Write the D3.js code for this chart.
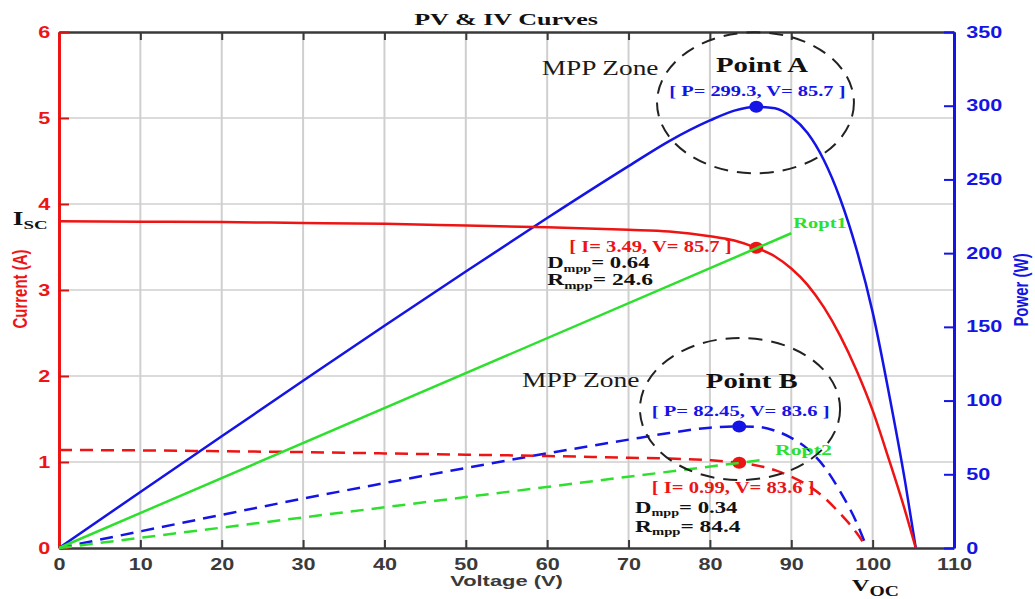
<!DOCTYPE html>
<html>
<head>
<meta charset="utf-8">
<script src="https://cdn.jsdelivr.net/npm/d3@7"></script>
<style>
  body { margin: 0; background: #fff; }
  .sans { font-family: "Liberation Sans", Arial, sans-serif; font-weight: bold; }
  .serif { font-family: "Liberation Serif", "Times New Roman", serif; }
</style>
</head>
<body>
<div id="chart"></div>
<script>
// DATA
// case A : solid curves
const voltageA = [0, 10, 20, 30, 40, 50, 60, 70, 75, 80, 83, 85.7, 88, 90, 92, 94, 96, 98, 100, 102, 104, 105.3]
const currentA = [3.80, 3.795, 3.79, 3.78, 3.77, 3.75, 3.73, 3.70, 3.68, 3.625, 3.575, 3.49, 3.39, 3.25, 3.06, 2.80, 2.47, 2.07, 1.60, 1.03, 0.43, 0]
const powerA = [0, 38, 75.8, 113.4, 150.8, 187.5, 223.8, 259, 276, 290, 296.7, 299.3, 298.3, 292.5, 281.5, 263.2, 237.1, 202.9, 160, 105, 44.7, 0]
// case B : dashed curves
const voltageB = [0, 10, 20, 30, 40, 50, 60, 70, 75, 80, 83.6, 86, 88, 90, 92, 94, 96, 98, 99.3]
const currentB = [1.14, 1.135, 1.125, 1.115, 1.10, 1.085, 1.07, 1.05, 1.04, 1.02, 0.99, 0.955, 0.905, 0.83, 0.73, 0.59, 0.40, 0.18, 0]
const powerB = [0, 11.3, 22.5, 33.5, 44, 54.3, 64.2, 73.5, 78, 81.6, 82.45, 82.1, 79.6, 74.7, 67.2, 55.5, 38.4, 17.6, 0]
// load lines (Ropt1, Ropt2)
const roptV1 = [0, 90], roptI1 = [0, 3.66]
const roptV2 = [0, 87], roptI2 = [0, 1.03]
// maximum power points A and B
const mppV = [85.7, 83.6]
const mppI = [3.49, 0.99]
const mppP = [299.3, 82.45]
// MPP zones (centre V, centre P, radius V, radius P)
const zoneV = [85.6, 83.7]
const zoneP = [302, 94.3]
const zoneRV = [12.1, 12.3]
const zoneRP = [47.8, 48.2]
// ticks
const xTicks = [0, 10, 20, 30, 40, 50, 60, 70, 80, 90, 100, 110]
const iTicks = [0, 1, 2, 3, 4, 5, 6]
const pTicks = [0, 50, 100, 150, 200, 250, 300, 350]

const W = 1035, H = 599
const margin = {top: 32, right: 81, bottom: 51, left: 59}
const width = W - margin.left - margin.right
const height = H - margin.top - margin.bottom
const SX = 1.35 // the original picture is stretched sideways

const RED = "#ee1414", BLUE = "#1414e6", GREEN = "#2ee02e", GREY = "#3a3a3a"

const xScale = d3.scaleLinear().domain([0, 110]).range([0, width])
const yI = d3.scaleLinear().domain([0, 6]).range([height, 0])
const yP = d3.scaleLinear().domain([0, 350]).range([height, 0])

const svg = d3.select("#chart")
  .append("svg")
  .attr("width", W)
  .attr("height", H)

const g = svg.append("g")
  .attr("transform", `translate(${margin.left},${margin.top})`)

// GRID
g.append("g").selectAll("line")
  .data(xTicks.slice(1, -1))
  .join("line")
    .attr("x1", d => xScale(d)).attr("x2", d => xScale(d))
    .attr("y1", 0).attr("y2", height)
    .attr("stroke", "#cfcfcf").attr("stroke-width", 2)

g.append("g").selectAll("line")
  .data(iTicks.slice(1, -1))
  .join("line")
    .attr("x1", 0).attr("x2", width)
    .attr("y1", d => yI(d)).attr("y2", d => yI(d))
    .attr("stroke", "#cfcfcf").attr("stroke-width", 1.5)

// AXES
const xAxis = g.append("g")
  .attr("transform", `translate(0,${height})`)
  .call(d3.axisBottom(xScale).tickValues(xTicks).tickSizeInner(-8).tickSizeOuter(0).tickPadding(11))
xAxis.selectAll("text").attr("class", "sans").attr("font-size", 16).attr("fill", GREY)
  .attr("transform", `scale(${SX},1)`)

const topAxis = g.append("g")
  .call(d3.axisTop(xScale).tickValues(xTicks).tickSizeInner(-8).tickSizeOuter(0).tickFormat(""))

;[xAxis, topAxis].forEach(a => {
  a.select(".domain").attr("stroke", GREY).attr("stroke-width", 2.5)
  a.selectAll(".tick line").attr("stroke", GREY).attr("stroke-width", 2)
})

const leftAxis = g.append("g")
  .call(d3.axisLeft(yI).tickValues(iTicks).tickFormat(d3.format("d"))
    .tickSizeInner(-10).tickSizeOuter(0).tickPadding(6.5))
leftAxis.select(".domain").attr("stroke", RED).attr("stroke-width", 3)
leftAxis.selectAll(".tick line").attr("stroke", "#c81818").attr("stroke-width", 2)
leftAxis.selectAll("text").attr("class", "sans").attr("font-size", 16).attr("fill", RED)
  .attr("transform", `scale(${SX},1)`)

const rightAxis = g.append("g")
  .attr("transform", `translate(${width},0)`)
  .call(d3.axisRight(yP).tickValues(pTicks).tickSizeInner(-10).tickSizeOuter(0).tickPadding(9))
rightAxis.select(".domain").attr("stroke", BLUE).attr("stroke-width", 3)
rightAxis.selectAll(".tick line").attr("stroke", BLUE).attr("stroke-width", 2)
rightAxis.selectAll("text").attr("class", "sans").attr("font-size", 16).attr("fill", BLUE)
  .attr("transform", `scale(${SX},1)`)

// CURVES
const toPts = (vs, ys) => vs.map((v, i) => [v, ys[i]])
const lineI = d3.line().x(d => xScale(d[0])).y(d => yI(d[1])).curve(d3.curveMonotoneX)
const lineP = d3.line().x(d => xScale(d[0])).y(d => yP(d[1])).curve(d3.curveMonotoneX)

const curves = [
  {pts: toPts(voltageA, powerA), gen: lineP, color: BLUE, dash: null},
  {pts: toPts(voltageA, currentA), gen: lineI, color: RED, dash: null},
  {pts: toPts(voltageB, powerB), gen: lineP, color: BLUE, dash: "13,8"},
  {pts: toPts(voltageB, currentB), gen: lineI, color: RED, dash: "13,8"}
]

g.append("g").selectAll("path")
  .data(curves)
  .join("path")
    .attr("d", d => d.gen(d.pts))
    .attr("fill", "none")
    .attr("stroke", d => d.color)
    .attr("stroke-width", 2.5)
    .attr("stroke-dasharray", d => d.dash)

// MPP DOTS
g.append("g").selectAll("ellipse")
  .data(mppV)
  .join("ellipse")
    .attr("cx", d => xScale(d)).attr("cy", (d, i) => yP(mppP[i]))
    .attr("rx", 7).attr("ry", 6).attr("fill", BLUE)
g.append("g").selectAll("ellipse")
  .data(mppV)
  .join("ellipse")
    .attr("cx", d => xScale(d)).attr("cy", (d, i) => yI(mppI[i]))
    .attr("rx", 7).attr("ry", 6).attr("fill", RED)

// LOAD LINES
const ropt = [
  {pts: toPts(roptV1, roptI1), dash: null},
  {pts: toPts(roptV2, roptI2), dash: "13,8"}
]
g.append("g").selectAll("path")
  .data(ropt)
  .join("path")
    .attr("d", d => lineI(d.pts))
    .attr("fill", "none")
    .attr("stroke", GREEN)
    .attr("stroke-width", 2.5)
    .attr("stroke-dasharray", d => d.dash)

// TEXT helper: parts = [text, fontSize, dy], stretched to the wanted width
function note(x, y, w, cls, color, parts, anchor) {
  const t = g.append("text")
    .attr("class", cls)
    .attr("fill", color)
    .attr("text-anchor", anchor || "start")
  parts.forEach(p => t.append("tspan").text(p[0]).attr("font-size", p[1]).attr("dy", p[2] || 0))
  const bw = t.node().getBBox().width
  t.attr("transform", `translate(${x},${y}) scale(${w / bw},1)`)
  return t
}
const V = v => xScale(v), A = i => yI(i)

note(447, -7, 174, "serif", "#111", [["PV & IV Curves", 17.5]], "middle").attr("font-weight", "bold")
note(447.5, 553.5, 112.7, "sans", GREY, [["Voltage (V)", 15]], "middle")

g.append("text")
  .attr("class", "sans").attr("font-size", 15).attr("fill", RED).attr("text-anchor", "middle")
  .attr("transform", `translate(-32,257) rotate(-90) scale(1,${SX})`)
  .text("Current (A)")
g.append("text")
  .attr("class", "sans").attr("font-size", 15).attr("fill", BLUE).attr("text-anchor", "middle")
  .attr("transform", `translate(969,258) rotate(-90) scale(1,${SX})`)
  .text("Power (W)")

// Isc and Voc
note(-46.3, 193, 32.3, "serif", "#111", [["I", 19], ["SC", 13, 3.7]]).attr("font-weight", "bold")
note(792.7, 559, 45, "serif", "#111", [["V", 17.5], ["OC", 14, 5]]).attr("font-weight", "bold")

// point A notes
note(V(59.33), A(5.50), 117, "serif", "#1a1a1a", [["MPP Zone", 20]])
note(V(80.75), A(5.54), 88, "serif", "#111", [["Point A", 20]]).attr("font-weight", "bold")
note(V(75.0), A(5.256), 175, "serif", BLUE, [["[ P= 299.3, V= 85.7 ]", 14.5]]).attr("font-weight", "bold")
note(V(62.72), A(3.442), 161, "serif", RED, [["[ I= 3.49, V= 85.7 ]", 16]]).attr("font-weight", "bold")
note(V(60.0), A(3.252), 100, "serif", "#111", [["D", 16], ["mpp", 10, 3.5], ["= 0.64", 16, -3.5]]).attr("font-weight", "bold")
note(V(60.0), A(3.058), 102, "serif", "#111", [["R", 16], ["mpp", 10, 3.5], ["= 24.6", 16, -3.5]]).attr("font-weight", "bold")
note(V(90.25), A(3.717), 50, "serif", GREEN, [["Ropt1", 14]]).attr("font-weight", "bold")

// point B notes
note(V(56.9), A(1.869), 117.7, "serif", "#1a1a1a", [["MPP Zone", 20]])
note(V(79.5), A(1.860), 87, "serif", "#111", [["Point B", 20]]).attr("font-weight", "bold")
note(V(72.85), A(1.535), 176.6, "serif", BLUE, [["[ P= 82.45, V= 83.6 ]", 14.5]]).attr("font-weight", "bold")
note(V(88.0), A(1.081), 53.3, "serif", GREEN, [["Ropt2", 14]]).attr("font-weight", "bold")
note(V(72.85), A(0.636), 161.6, "serif", RED, [["[ I= 0.99, V= 83.6 ]", 16]]).attr("font-weight", "bold")
note(V(70.8), A(0.41), 100, "serif", "#111", [["D", 16], ["mpp", 10, 3.5], ["= 0.34", 16, -3.5]]).attr("font-weight", "bold")
note(V(70.8), A(0.19), 101.7, "serif", "#111", [["R", 16], ["mpp", 10, 3.5], ["= 84.4", 16, -3.5]]).attr("font-weight", "bold")

// MPP ZONES
g.append("g").selectAll("ellipse")
  .data(zoneV)
  .join("ellipse")
    .attr("cx", d => xScale(d))
    .attr("cy", (d, i) => yP(zoneP[i]))
    .attr("rx", (d, i) => xScale(zoneRV[i]) - xScale(0))
    .attr("ry", (d, i) => yP(0) - yP(zoneRP[i]))
    .attr("fill", "none")
    .attr("stroke", "#222")
    .attr("stroke-width", 2)
    .attr("stroke-dasharray", "14,9")
</script>
</body>
</html>
